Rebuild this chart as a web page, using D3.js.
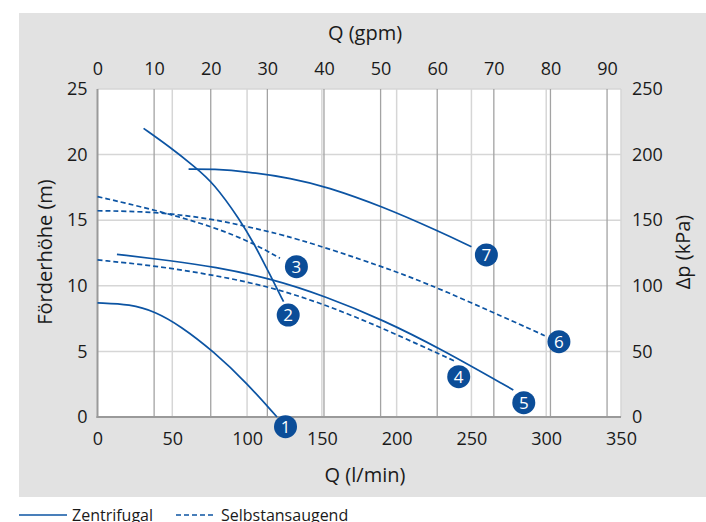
<!DOCTYPE html>
<html><head><meta charset="utf-8">
<script src="https://cdn.jsdelivr.net/npm/d3@7"></script>
<style>
body{margin:0;background:#fff;}
svg{display:block;font-family:"Open Sans",sans-serif;}
</style></head>
<body><svg id="c" width="706" height="522"></svg>
<script>
// Data (Q in l/min, H in m)
const curve1 = [[0,8.7],[22,8.6],[38.6,8.03],[55.3,6.95],[77.6,5.0],[100,2.57],[120,0]];
const curve2 = [[30.8,22.0],[48.7,20.55],[64.2,19.15],[77.6,17.85],[95.4,15.0],[104.3,13.3],[115.5,10.8],[124.4,8.79]];
const curve3 = [[0,16.8],[38.6,15.78],[77.6,14.5],[104.3,13.24],[122,12.1]];
const curve4 = [[0,11.97],[38.6,11.53],[77.6,10.82],[115.5,9.93],[153,8.54],[191,6.76],[240,4.2]];
const curve5 = [[13,12.4],[50,11.9],[77.6,11.46],[115.5,10.57],[153,9.17],[191,7.39],[228.8,5.24],[278,2.06]];
const curve6 = [[0,15.72],[38.6,15.65],[77.6,15.09],[100,14.5],[130,13.75],[191,11.46],[228.8,9.81],[299,6.2]];
const curve7 = [[60.9,18.9],[77.6,18.9],[100,18.7],[130,18.2],[153,17.55],[191,16.03],[228.8,14.12],[250,12.98]];
const curveIds = ["1","2","3","4","5","6","7"];
const curveTypes = ["Zentrifugal","Zentrifugal","Selbstansaugend","Selbstansaugend","Zentrifugal","Selbstansaugend","Zentrifugal"];
const labelQ = [125.7,127.5,133,241.5,285,308.5,260];
const labelH = [-0.74,7.77,11.46,3.07,1.09,5.74,12.35];
const xTicksLmin = [0,50,100,150,200,250,300,350];
const xTicksGpm = [0,10,20,30,40,50,60,70,80,90];
const yTicksM = [0,5,10,15,20,25];
const yTicksKpa = [0,50,100,150,200,250];
const legendNames = ["Zentrifugal","Selbstansaugend"];

const curves = [curve1,curve2,curve3,curve4,curve5,curve6,curve7];
const svg = d3.select("#c");
const L=97.5,R=621,T=89,B=417;
const x = d3.scaleLinear().domain([0,350]).range([L,R]);
const xg = d3.scaleLinear().domain([0,350/3.78541]).range([L,R]);
const y = d3.scaleLinear().domain([0,25]).range([B,T]);
const yk = d3.scaleLinear().domain([0,250]).range([B,T]);
const blue="#0c54a3", dark="#0b4d98", txt="#1a1a1a";

svg.append("rect").attr("x",19).attr("y",13).attr("width",687).attr("height",484).attr("fill","#e2e2e2");
svg.append("rect").attr("x",L).attr("y",T).attr("width",R-L).attr("height",B-T).attr("fill","#fff");

// grid
const g = svg.append("g");
g.selectAll(".hl").data(yTicksM.slice(1)).join("line")
  .attr("x1",L).attr("x2",R).attr("y1",d=>y(d)).attr("y2",d=>y(d))
  .attr("stroke","#d6d6d6").attr("stroke-width",1.5);
g.selectAll(".vl").data(xTicksLmin.slice(1)).join("line")
  .attr("x1",d=>x(d)).attr("x2",d=>x(d)).attr("y1",T).attr("y2",B)
  .attr("stroke","#d6d6d6").attr("stroke-width",1.5);
g.selectAll(".vg").data(xTicksGpm.slice(1)).join("line")
  .attr("x1",d=>xg(d)).attr("x2",d=>xg(d)).attr("y1",T).attr("y2",B)
  .attr("stroke","#a3a3a3").attr("stroke-width",1.3);
// axis lines
svg.append("line").attr("x1",L).attr("x2",L).attr("y1",T).attr("y2",B+1).attr("stroke","#9a9a9a").attr("stroke-width",2);
svg.append("line").attr("x1",L-1).attr("x2",R).attr("y1",B).attr("y2",B).attr("stroke","#9a9a9a").attr("stroke-width",2);

function styleAxis(sel){
  sel.select(".domain").remove();
  sel.selectAll("line").remove();
  sel.selectAll("text").attr("fill",txt).style("font-size","18px").style("font-family","'Open Sans',sans-serif");
}
svg.append("g").attr("transform",`translate(0,${B})`)
  .call(d3.axisBottom(x).tickValues(xTicksLmin).tickSize(0).tickPadding(15)).call(styleAxis);
svg.append("g").attr("transform",`translate(0,${T})`)
  .call(d3.axisTop(xg).tickValues(xTicksGpm).tickSize(0).tickPadding(14)).call(styleAxis);
svg.append("g").attr("transform",`translate(${L},0)`)
  .call(d3.axisLeft(y).tickValues(yTicksM).tickSize(0).tickPadding(10)).call(styleAxis);
svg.append("g").attr("transform",`translate(${R},0)`)
  .call(d3.axisRight(yk).tickValues(yTicksKpa).tickSize(0).tickPadding(11)).call(styleAxis);

// titles
const tfs="20px";
svg.append("text").attr("x",365).attr("y",40).attr("text-anchor","middle").attr("fill",txt).style("font-size",tfs).text("Q (gpm)");
svg.append("text").attr("x",365).attr("y",482).attr("text-anchor","middle").attr("fill",txt).style("font-size",tfs).text("Q (l/min)");
svg.append("text").attr("transform","translate(52,252) rotate(-90)").attr("text-anchor","middle").attr("fill",txt).style("font-size",tfs).text("Förderhöhe (m)");
svg.append("text").attr("transform","translate(690,252) rotate(-90)").attr("text-anchor","middle").attr("fill",txt).style("font-size",tfs).text("Δp (kPa)");

// curves
const line = d3.line().x(d=>x(d[0])).y(d=>y(d[1])).curve(d3.curveBasis);
curves.forEach((c,i)=>{
  svg.append("path").attr("d",line(c)).attr("fill","none").attr("stroke",blue).attr("stroke-width",1.7)
    .attr("stroke-dasharray",curveTypes[i]==="Selbstansaugend"?"5,3":null);
});
// labels
curveIds.forEach((id,i)=>{
  const gg = svg.append("g").attr("transform",`translate(${x(labelQ[i])},${y(labelH[i])})`);
  gg.append("circle").attr("r",11.5).attr("fill",dark);
  gg.append("text").attr("text-anchor","middle").attr("dy","0.36em").attr("fill","#fff").style("font-size","17px").text(id);
});

// legend
const lg = svg.append("g");
lg.append("line").attr("x1",19).attr("x2",67).attr("y1",515).attr("y2",515).attr("stroke",blue).attr("stroke-width",1.7);
lg.append("text").attr("x",72).attr("y",521).attr("fill",txt).style("font-size","16px").text(legendNames[0]);
lg.append("line").attr("x1",176).attr("x2",215).attr("y1",515).attr("y2",515).attr("stroke",blue).attr("stroke-width",1.7).attr("stroke-dasharray","5,3");
lg.append("text").attr("x",221).attr("y",521).attr("fill",txt).style("font-size","16px").text(legendNames[1]);
</script></body></html>
